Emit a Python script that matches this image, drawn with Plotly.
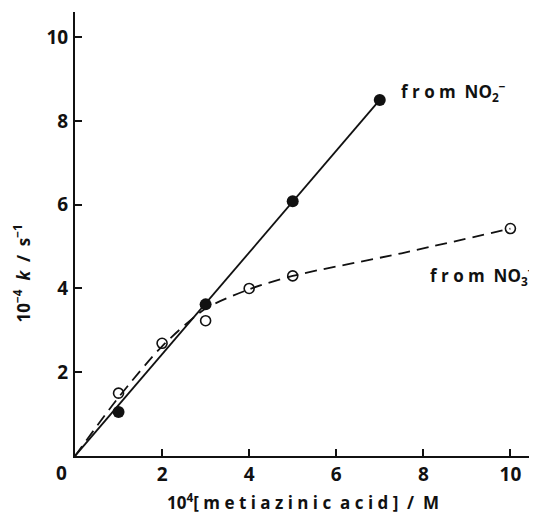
import plotly.graph_objects as go

# data
nitrite_x = [1, 3, 5, 7]
nitrite_y = [1.05, 3.62, 6.08, 8.5]
nitrite_fit_x = [0, 7]
nitrite_fit_y = [0, 8.5]

nitrate_x = [1, 2, 3, 4, 5, 10]
nitrate_y = [1.5, 2.69, 3.23, 4.0, 4.3, 5.43]
nitrate_fit_x = [0, 1, 2, 3, 4, 5, 7.5, 10]
nitrate_fit_y = [0, 1.4, 2.62, 3.52, 3.98, 4.3, 4.84, 5.43]

tick_vals = [2, 4, 6, 8, 10]
tick_text = ["2", "4", "6", "8", "10"]

FONT = "Open Sans"
BLACK = "#111111"


def spaced(s):
    # the original uses wide letter spacing
    return " ".join(list(s))


fig = go.Figure()

fig.add_trace(go.Scatter(x=nitrite_fit_x, y=nitrite_fit_y, mode="lines",
                         line=dict(color=BLACK, width=1.8), showlegend=False,
                         hoverinfo="skip"))
fig.add_trace(go.Scatter(x=nitrate_fit_x, y=nitrate_fit_y, mode="lines",
                         line=dict(color=BLACK, width=1.8, dash="12px,7px", shape="spline", smoothing=0.7),
                         showlegend=False, hoverinfo="skip"))
fig.add_trace(go.Scatter(x=nitrite_x, y=nitrite_y, mode="markers",
                         marker=dict(symbol="circle", size=12, color=BLACK),
                         name="from NO2-", showlegend=False))
fig.add_trace(go.Scatter(x=nitrate_x, y=nitrate_y, mode="markers",
                         marker=dict(symbol="circle-open", size=10, color=BLACK,
                                     line=dict(width=1.6, color=BLACK)),
                         name="from NO3-", showlegend=False))

tick_font = dict(family=FONT, size=19, color=BLACK, weight=700)
axis_common = dict(showgrid=False, zeroline=False, showline=True, linecolor=BLACK,
                   linewidth=2, ticks="inside", ticklen=7, tickwidth=1.8,
                   tickcolor=BLACK, tickfont=tick_font, automargin=False)

fig.update_xaxes(range=[0, 10.45], tickvals=tick_vals, ticktext=tick_text,
                 ticklabelstandoff=0, **axis_common)
fig.update_yaxes(range=[0, 10.6], tickvals=tick_vals, ticktext=tick_text,
                 ticklabelstandoff=1, **axis_common)

label_font = dict(family=FONT, size=17, color=BLACK, weight=700)

fig.add_annotation(x=0, y=0, xref="x", yref="y", text="0", showarrow=False,
                   xshift=-14, yshift=-17, font=tick_font)
fig.add_annotation(x=7.45, y=8.7, xref="x", yref="y",
                   text=spaced("from") + "  NO<sub>2</sub><sup>−</sup>",
                   showarrow=False, xanchor="left", yanchor="middle", font=label_font)
fig.add_annotation(x=8.1, y=4.32, xref="x", yref="y",
                   text=spaced("from") + "  NO<sub>3</sub><sup>−</sup>",
                   showarrow=False, xanchor="left", yanchor="middle", font=label_font)

fig.add_annotation(x=0.5, y=0, xref="paper", yref="paper", yanchor="top",
                   xshift=0, yshift=-31, showarrow=False,
                   text="10<sup>4</sup>[ " + spaced("metiazinic") + "  " + spaced("acid") + " ]  /  M",
                   font=label_font)
fig.add_annotation(x=0, y=0.5, xref="paper", yref="paper", xanchor="right",
                   xshift=-39, yshift=-40, showarrow=False, textangle=-90,
                   text="10<sup>−4</sup>  <i>k</i>  /  s<sup>−1</sup>",
                   font=label_font)

fig.update_layout(width=537, height=522, plot_bgcolor="white", paper_bgcolor="white",
                  margin=dict(l=67, r=15, t=4, b=73.5, autoexpand=False))

fig.write_html("out.html")
